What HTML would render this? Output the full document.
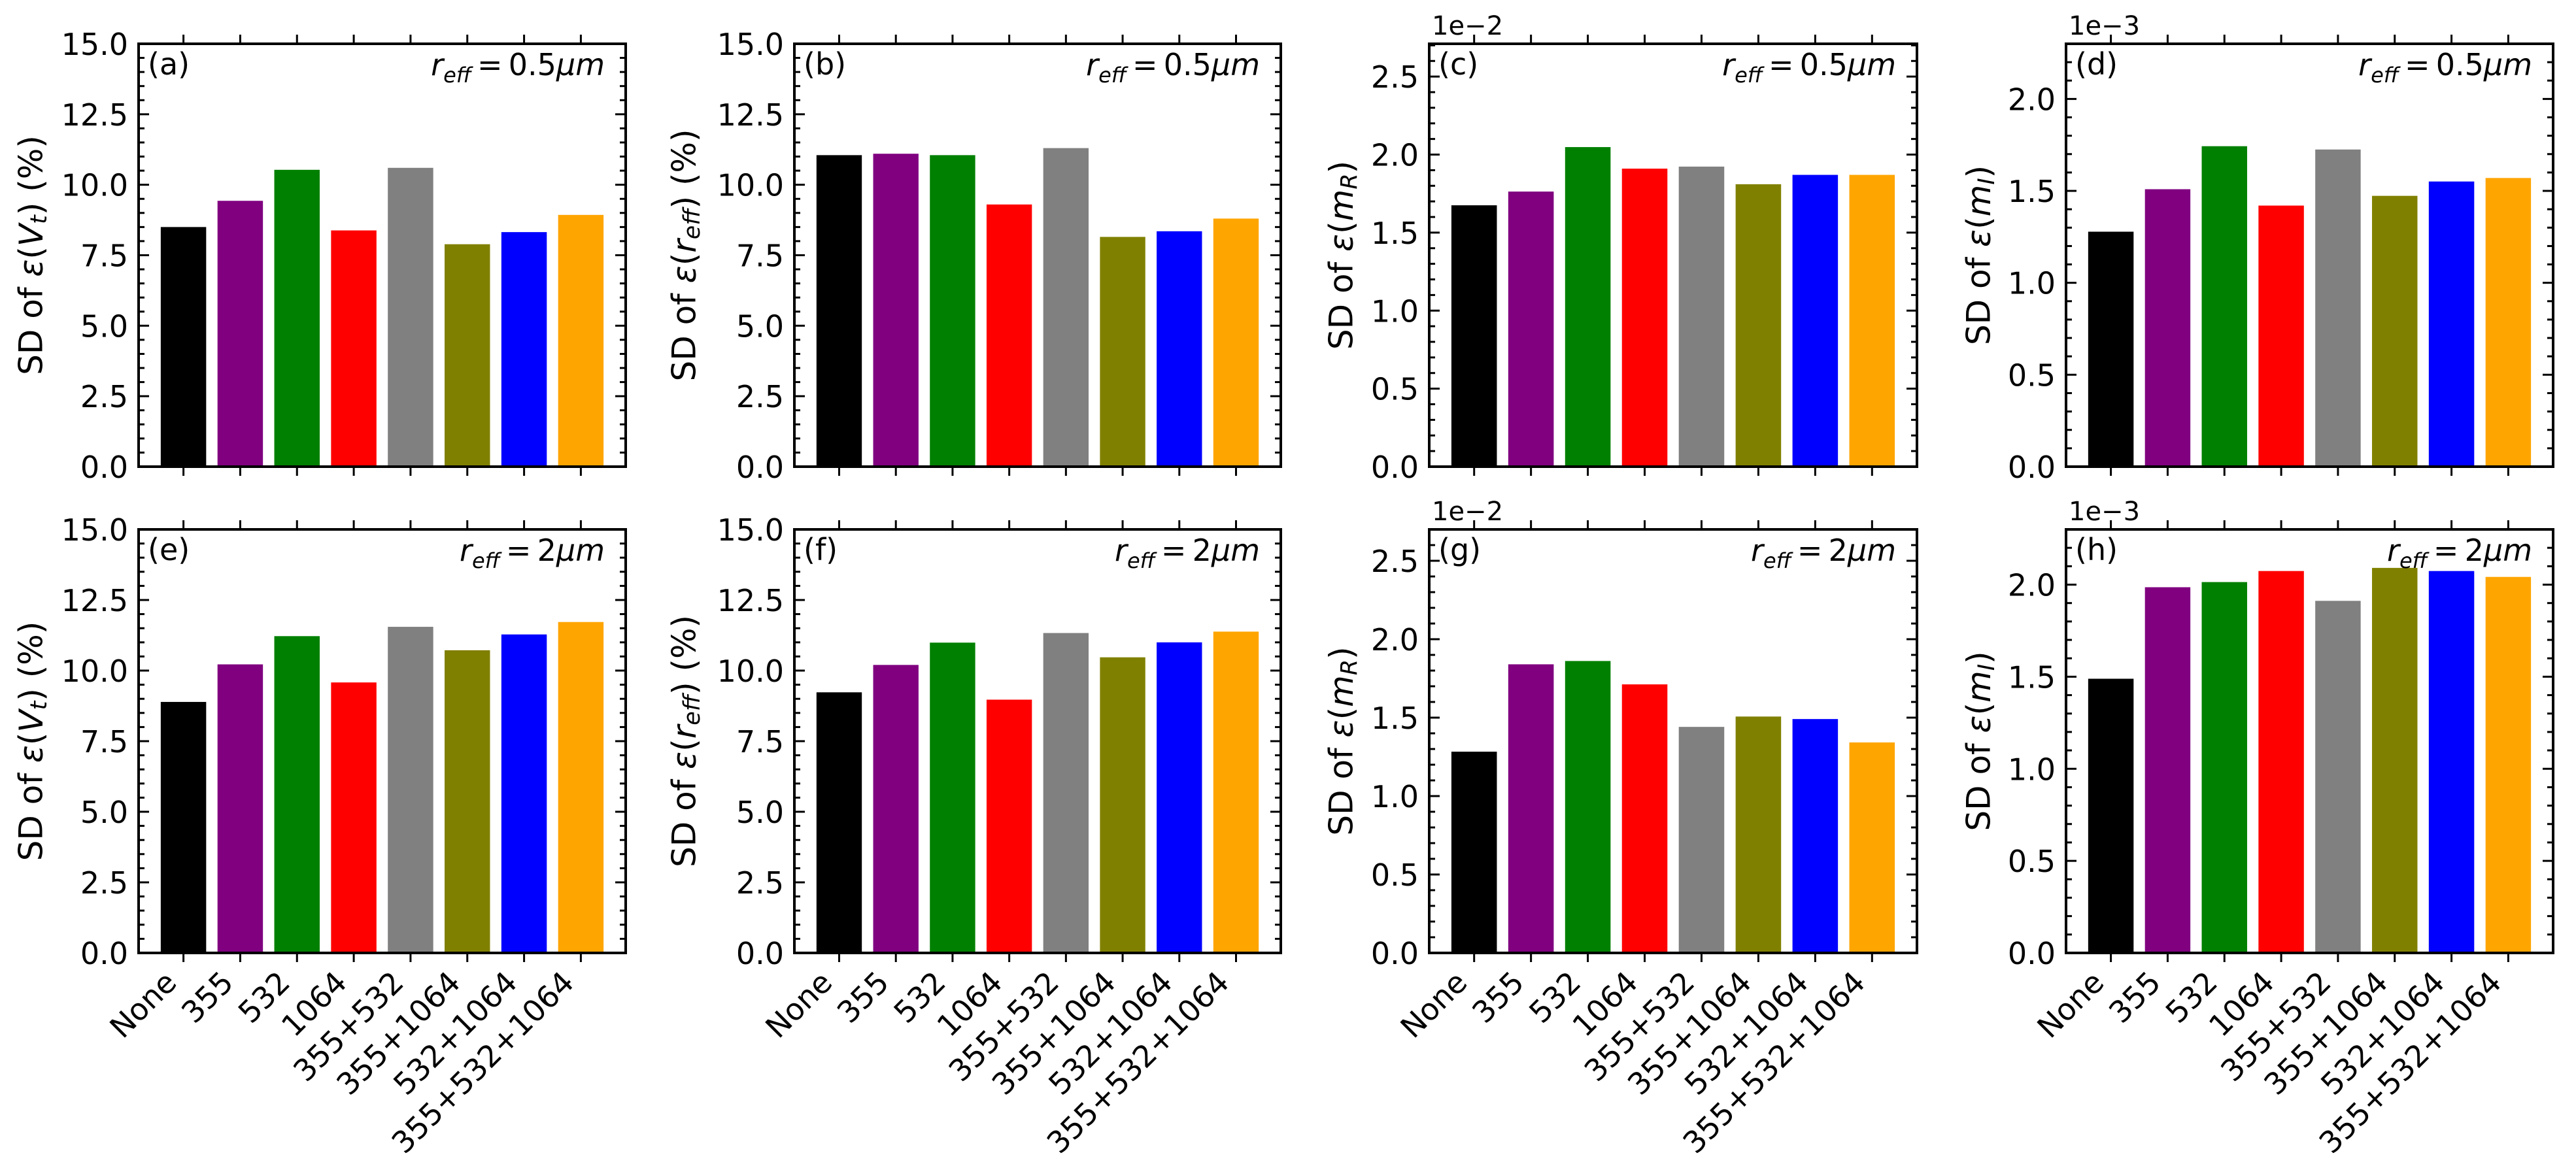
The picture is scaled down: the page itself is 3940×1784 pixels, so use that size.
<!DOCTYPE html>
<html><head><meta charset="utf-8"><style>
html,body{margin:0;padding:0;background:#fff}
svg{display:block}
text{font-family:"DejaVu Sans","Liberation Sans",sans-serif;fill:#000}
</style></head><body>
<svg id="fig" xmlns="http://www.w3.org/2000/svg" width="3940" height="1784" viewBox="0 0 3940 1784"></svg>
<script>
const categories = ["None","355","532","1064","355+532","355+1064","532+1064","355+532+1064"];
const colors = ["#000000","#800080","#008000","#ff0000","#808080","#808000","#0000ff","#ffa500"];
const valsA = [8.50,9.43,10.53,8.38,10.60,7.89,8.32,8.93];
const valsB = [11.05,11.10,11.05,9.30,11.30,8.15,8.35,8.80];
const valsC = [1.675,1.763,2.048,1.91,1.923,1.81,1.87,1.87];
const valsD = [1.278,1.509,1.743,1.42,1.725,1.473,1.551,1.57];
const valsE = [8.89,10.22,11.22,9.58,11.55,10.72,11.28,11.72];
const valsF = [9.23,10.20,10.99,8.97,11.33,10.47,11.00,11.38];
const valsG = [1.283,1.84,1.861,1.712,1.441,1.507,1.491,1.342];
const valsH = [1.489,1.986,2.014,2.074,1.912,2.091,2.074,2.042];
const ticksPct = ["0.0","2.5","5.0","7.5","10.0","12.5","15.0"];
const ticksSmall = ["0.0","0.5","1.0","1.5","2.0","2.5"];

const NS="http://www.w3.org/2000/svg";
const svg=document.getElementById('fig');
function mk(tag,attrs,parent){const e=document.createElementNS(NS,tag);for(const k in attrs)e.setAttribute(k,attrs[k]);(parent||svg).appendChild(e);return e;}

const panels=[
 {id:'a',vals:valsA,x0:212,x1:957,y0:67,y1:714,ymax:15,major:2.5,minor:0.5,ticks:ticksPct,lab:'V',sub:'t',pct:true,r:'0.5',off:null,yl:161},
 {id:'b',vals:valsB,x0:1215,x1:1959,y0:67,y1:714,ymax:15,major:2.5,minor:0.5,ticks:ticksPct,lab:'r',sub:'eff',pct:true,r:'0.5',off:null,yl:165},
 {id:'c',vals:valsC,x0:2186,x1:2932,y0:67,y1:714,ymax:2.71,major:0.5,minor:0.1,ticks:ticksSmall,lab:'m',sub:'R',pct:false,r:'0.5',off:'1e\u22122',yl:131},
 {id:'d',vals:valsD,x0:3160,x1:3905,y0:67,y1:714,ymax:2.3,major:0.5,minor:0.1,ticks:ticksSmall.slice(0,5),lab:'m',sub:'I',pct:false,r:'0.5',off:'1e\u22123',yl:130},
 {id:'e',vals:valsE,x0:212,x1:957,y0:810,y1:1458,ymax:15,major:2.5,minor:0.5,ticks:ticksPct,lab:'V',sub:'t',pct:true,r:'2',off:null,yl:161},
 {id:'f',vals:valsF,x0:1215,x1:1959,y0:810,y1:1458,ymax:15,major:2.5,minor:0.5,ticks:ticksPct,lab:'r',sub:'eff',pct:true,r:'2',off:null,yl:165},
 {id:'g',vals:valsG,x0:2186,x1:2932,y0:810,y1:1458,ymax:2.70,major:0.5,minor:0.1,ticks:ticksSmall,lab:'m',sub:'R',pct:false,r:'2',off:'1e\u22122',yl:131},
 {id:'h',vals:valsH,x0:3160,x1:3905,y0:810,y1:1458,ymax:2.3,major:0.5,minor:0.1,ticks:ticksSmall.slice(0,5),lab:'m',sub:'I',pct:false,r:'2',off:'1e\u22123',yl:130}
];
const bottomRow=['e','f','g','h'];

panels.forEach(p=>{
  const g=mk('g',{});
  
  
  const n=categories.length;
  const xmin=-0.79, xmax=n-1+0.79;
  const sx=v=>p.x0+(v-xmin)/(xmax-xmin)*(p.x1-p.x0);
  const sy=v=>p.y1-v/p.ymax*(p.y1-p.y0);
  p.vals.forEach((v,i)=>{
    const r=mk('rect',{x:sx(i-0.4),y:sy(v),width:sx(i+0.4)-sx(i-0.4),height:sy(0)-sy(v),fill:colors[i]},g);
    
    
  });
  const nMin=Math.floor(p.ymax/p.minor+1e-6);
  for(let k=0;k<=nMin;k++){
    const v=k*p.minor, y=sy(v);
    const isMaj=Math.abs(v/p.major-Math.round(v/p.major))<1e-6;
    const L=isMaj?16:9;
    mk('line',{x1:p.x0,x2:p.x0+L,y1:y,y2:y,stroke:'#000','stroke-width':3},g);
    mk('line',{x1:p.x1,x2:p.x1-L,y1:y,y2:y,stroke:'#000','stroke-width':3},g);
  }
  p.ticks.forEach((t,k)=>{
    const y=sy(k*p.major);
    const tx=mk('text',{x:p.x0-16,y:y+17,'text-anchor':'end','font-size':46},g);
    tx.textContent=t;
    
    
  });
  categories.forEach((c,i)=>{
    const x=sx(i);
    mk('line',{x1:x,x2:x,y1:p.y1,y2:p.y1+14,stroke:'#000','stroke-width':3},g);
    mk('line',{x1:x,x2:x,y1:p.y0,y2:p.y0-14,stroke:'#000','stroke-width':3},g);
    if(bottomRow.includes(p.id)){
      const ax=x-8, ay=p.y1+48;
      const tx=mk('text',{x:ax,y:ay,'text-anchor':'end','font-size':46,transform:'rotate(-45 '+ax+' '+ay+')'},g);
      tx.textContent=c;
      
      
    }
  });
  const fr=mk('rect',{x:p.x0,y:p.y0,width:p.x1-p.x0,height:p.y1-p.y0,fill:'none',stroke:'#000','stroke-width':4},g);
  
  
  const pl=mk('text',{x:p.x0+14,y:p.y0+47,'font-size':46},g);
  pl.textContent='('+p.id+')';
  
  
  const ra=mk('text',{x:p.x1-32,y:p.y0+48,'text-anchor':'end','font-size':46},g);
  
  
  ra.innerHTML='<tspan font-style="italic">r</tspan><tspan font-style="italic" font-size="32" dy="11">eff</tspan><tspan dy="-11">\u2009=\u2009'+p.r+'</tspan><tspan font-style="italic">μm</tspan>';
  if(p.off){
    const o=mk('text',{x:p.x0+4,y:p.y0-14,'font-size':40},g);
    o.textContent=p.off;
    
    
  }
  const lx=p.x0-p.yl, ly=(p.y0+p.y1)/2;
  const yl=mk('text',{x:lx,y:ly,'text-anchor':'middle','font-size':50,transform:'rotate(-90 '+lx+' '+ly+')','dominant-baseline':'middle'},g);
  
  
  yl.innerHTML='SD of <tspan font-style="italic">ε</tspan>(<tspan font-style="italic">'+p.lab+'</tspan><tspan font-style="italic" font-size="35" dy="10">'+p.sub+'</tspan><tspan dy="-10">)</tspan>'+(p.pct?' (%)':'');
});
</script>
</body></html>
